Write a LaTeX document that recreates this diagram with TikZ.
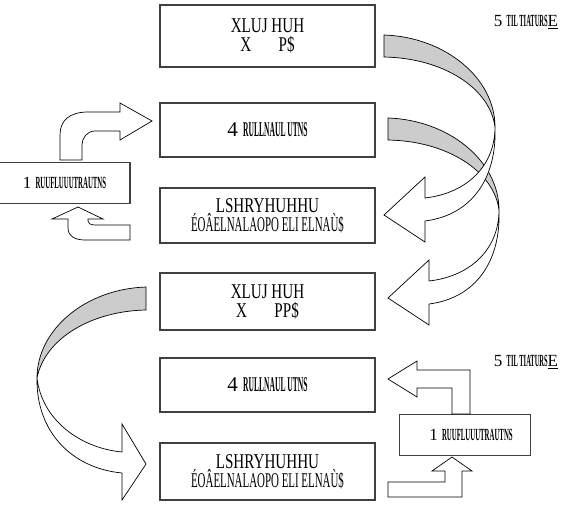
\documentclass[tikz,border=0pt]{standalone}
\usepackage{graphicx}
\usepackage{fontspec}
\setmainfont{Liberation Serif}
\usetikzlibrary{positioning}
\tikzset{
    box/.style={
        rectangle,
        draw=black!75,
        line width=1.2pt,
        fill=white,
        minimum width=215pt,
        align=center,
        font=\fontsize{21}{19}\selectfont,
    },
    sidebox/.style={
        rectangle,
        draw=black!75,
        line width=1.2pt,
        fill=white,
        minimum width=131pt,
        minimum height=41pt,
        font=\fontsize{17}{17}\selectfont,
    },
    band/.style={draw=black, line width=0.7pt, fill=gray!40},
    face/.style={draw=black, line width=0.7pt, fill=white},
}
\newcommand{\cnd}[2][0.36]{\scalebox{#1}[1]{\bfseries #2}}
\newcommand{\nrw}[2][0.72]{\scalebox{#1}[1]{#2}}

\begin{document}
\begin{tikzpicture}[x=1pt,y=-1pt]
    \useasboundingbox (0,0) rectangle (563,507);

    % boxes in the middle column
    \node [box, minimum height=62pt] (use1) at (267.5,36) {\nrw{XLUJ HUH}\\\nrw{X\hspace{38pt}P\$}};
    \node [box, minimum height=54pt] (rel1) at (267.5,130) {4 \cnd{RULLNAUL UTNS}};
    \node [box, minimum height=55pt] (imp1) at (267.5,215.5) {\nrw{LSHRYHUHHU}\\\nrw[0.52]{ÉOÂELNALAOPO ELI ELNAÙ\$}};
    \node [box, minimum height=57pt] (use2) at (267.5,301.5) {\nrw{XLUJ HUH}\\\nrw{X\hspace{38pt}PP\$}};
    \node [box, minimum height=54pt] (rel2) at (267.5,385) {4 \cnd{RULLNAUL UTNS}};
    \node [box, minimum height=57pt] (imp2) at (267.5,471.5) {\nrw{LSHRYHUHHU}\\\nrw[0.52]{ÉOÂELNALAOPO ELI ELNAÙ\$}};

    % side boxes
    \node [sidebox] (src1) at (64.5,183) {1 \cnd[0.4]{RUUFLUUUTRAUTNS}};
    \node [sidebox] (src2) at (465,435) {\hspace{12pt}1 \cnd[0.4]{RUUFLUUUTRAUTNS}};

    % round labels
    \node [font=\fontsize{17}{17}\selectfont] (run1) at (526,22) {5 \cnd[0.38]{TIL TIATURS}\underline{E}};
    \node [font=\fontsize{17}{17}\selectfont] (run2) at (526,362) {5 \cnd[0.38]{TIL TIATURS}\underline{E}};

    % curved arrows on the right
    \begin{scope}[shift={(4,83)}]
        \draw [band] (384,35) .. controls (445,37) and (495,78) .. (495,127)
            .. controls (490,88) and (443,58) .. (384,57) -- cycle;
        \draw [face] (495,127) .. controls (495,165) and (468,193) .. (425,198)
            -- (425,177) -- (384,215) -- (425,242) -- (425,221)
            .. controls (472,215) and (497,178) .. (495,127) -- cycle;
    \end{scope}
    \draw [band] (384,35) .. controls (445,37) and (495,78) .. (495,127)
        .. controls (490,88) and (443,58) .. (384,57) -- cycle;
    \draw [face] (495,127) .. controls (495,165) and (468,193) .. (425,198)
        -- (425,177) -- (384,215) -- (425,242) -- (425,221)
        .. controls (472,215) and (497,178) .. (495,127) -- cycle;

    % curved arrow on the left
    \draw [band] (146,287) .. controls (85,289) and (37,330) .. (37,378)
        .. controls (45,338) and (92,311) .. (146,310) -- cycle;
    \draw [face] (37,378) .. controls (42,420) and (80,448) .. (122,452)
        -- (122,424) -- (146,464) -- (122,500) -- (122,473)
        .. controls (70,468) and (36,430) .. (37,378) -- cycle;

    % small bent arrows
    \draw [face] (60,160) -- (60,135) .. controls (60,120) and (70,112) .. (88,112)
        -- (120,112) -- (120,103) -- (152,121) -- (120,140) -- (120,131) -- (95,131)
        .. controls (87,131) and (82,138) .. (82,145) -- (82,160) -- cycle;
    \draw [face] (78,207) -- (103,219) -- (88,219) -- (88,221)
        .. controls (88,223) and (90,225) .. (95,225) -- (130,225) -- (130,240) -- (85,240)
        .. controls (75,240) and (68,236) .. (68,228) -- (68,219) -- (52,219) -- cycle;
    \draw [face] (388,379) -- (417,361) -- (417,370) -- (470,370) -- (470,414)
        -- (452,414) -- (452,388) -- (417,388) -- (417,397) -- cycle;
    \draw [face] (388,497) -- (462,497) -- (462,471) -- (472,471) -- (452,457)
        -- (432,471) -- (445,471) -- (445,482) -- (388,482) -- cycle;
\end{tikzpicture}
\end{document}
